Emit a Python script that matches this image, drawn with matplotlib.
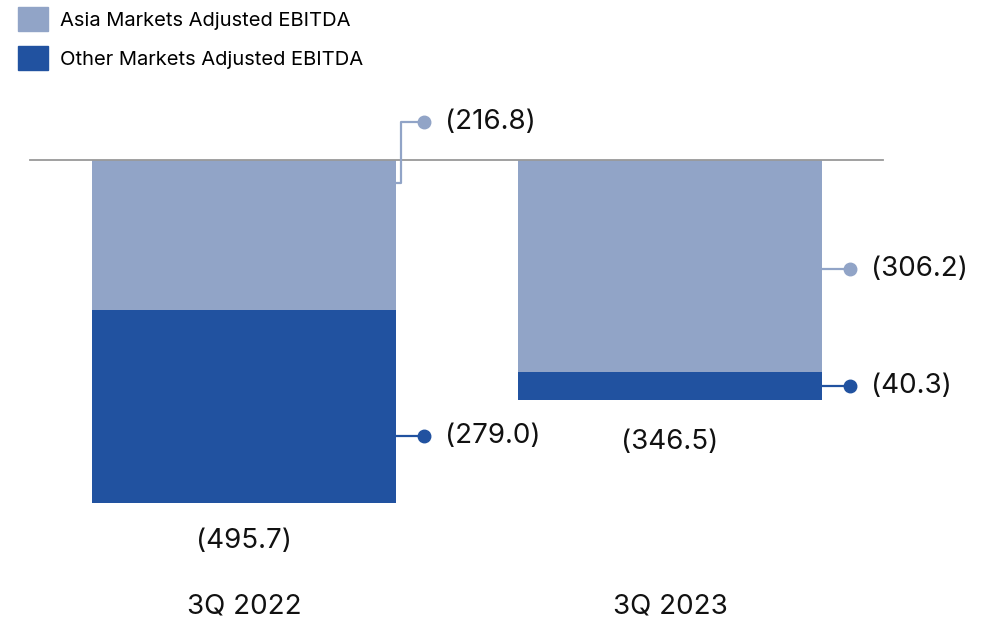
import matplotlib.pyplot as plt
from matplotlib.patches import Patch

plt.rcParams['font.family'] = ['Inter', 'DejaVu Sans']

categories = ['3Q 2022', '3Q 2023']
asia = [216.8, 306.2]
other = [279.0, 40.3]
totals = [495.7, 346.5]

light = '#91A4C7'
dark = '#2152A0'

fig = plt.figure(figsize=(9.95, 6.26), dpi=100)
ax = fig.add_axes([0, 0, 1, 1])
ax.set_xlim(-0.573, 1.763)
ax.set_ylim(-673.4, 231.2)
ax.axis('off')

x = [0, 1]
w = 0.714
ax.bar(x, [-a for a in asia], width=w, color=light)
ax.bar(x, [-o for o in other], bottom=[-a for a in asia], width=w, color=dark)
ax.axhline(0, xmin=30 / 995, xmax=883 / 995, color='#999999', lw=1.3)

dot_dx = 0.0657
lab_dx = 0.115
fs = 20

for i in range(2):
    edge = x[i] + w / 2
    # Asia leader
    ymid = -asia[i] / 2
    if i == 0:
        # small segment doesn't fit inside the bar, route label above the baseline
        yl = 55
        ys = -33
        ax.plot([edge, edge + 0.012, edge + 0.012, edge + dot_dx],
                [ys, ys, yl, yl], color=light, lw=1.6)
    else:
        yl = ymid - 5
        ax.plot([edge, edge + dot_dx], [yl, yl], color=light, lw=1.6)
    ax.plot(edge + dot_dx, yl, 'o', color=light, ms=9)
    ax.text(edge + lab_dx, yl, '(%.1f)' % asia[i], fontsize=fs,
            va='center', ha='left', color='#111111')

    # Other leader
    yo = -asia[i] - other[i] / 2
    if i == 0:
        yo = -399
    ax.plot([edge, edge + dot_dx], [yo, yo], color=dark, lw=1.6)
    ax.plot(edge + dot_dx, yo, 'o', color=dark, ms=9)
    ax.text(edge + lab_dx, yo, '(%.1f)' % other[i], fontsize=fs,
            va='center', ha='left', color='#111111')

    # totals and category labels
    ax.text(x[i], -totals[i] - 55 - 6 * i, '(%.1f)' % totals[i], fontsize=fs,
            ha='center', va='center', color='#111111')
    ax.text(x[i], -645, categories[i], fontsize=fs,
            ha='center', va='center', color='#111111')

handles = [Patch(color=light), Patch(color=dark)]
fig.legend(handles, ['Asia Markets Adjusted EBITDA', 'Other Markets Adjusted EBITDA'],
           loc='upper left', bbox_to_anchor=(18 / 995, 1 - 7 / 626), frameon=False,
           fontsize=14.5, handlelength=1.49, handleheight=1.45, handletextpad=0.6,
           labelspacing=0.75, borderaxespad=0, borderpad=0)

fig.savefig('out.png', dpi=100)
